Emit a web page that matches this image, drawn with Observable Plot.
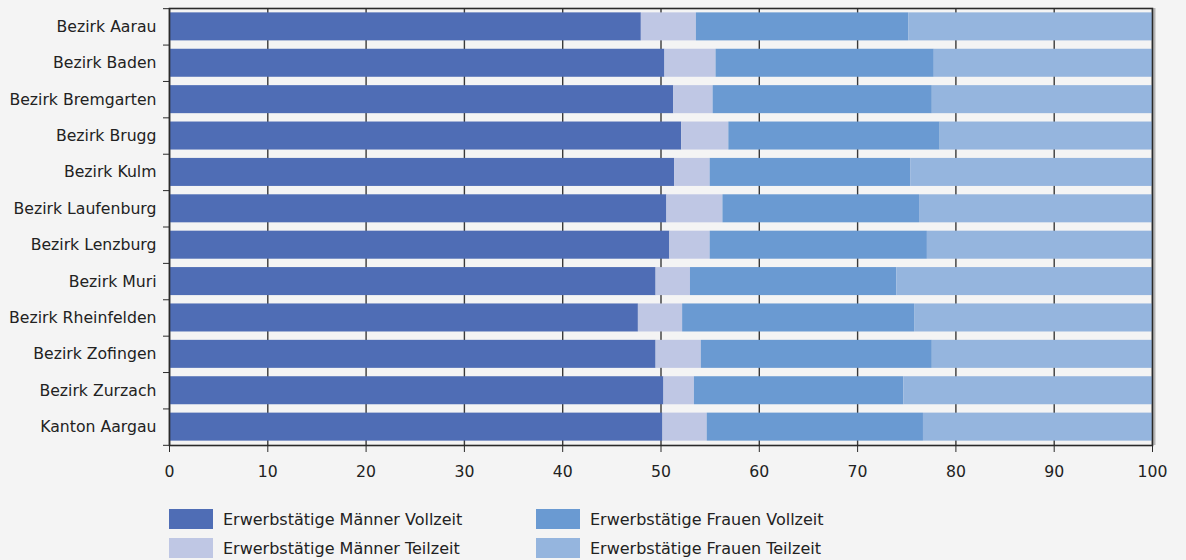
<!DOCTYPE html>
<html><head><meta charset="utf-8">
<script src="https://cdn.jsdelivr.net/npm/d3@7"></script>
<script src="https://cdn.jsdelivr.net/npm/@observablehq/plot@0.6"></script>
<style>
html,body{margin:0;padding:0;background:#f4f4f4;}
#wrap{position:relative;width:1186px;height:560px;font-family:"DejaVu Sans",sans-serif;color:#222;}
#wrap svg{position:absolute;left:0;top:0;}
.item{position:absolute;display:flex;align-items:center;height:20px;font-size:16px;white-space:nowrap;}
.sw{width:44px;height:20px;margin-right:10px;flex:none;}
</style></head>
<body><div id="wrap"></div>
<script>
const regions = ["Bezirk Aarau","Bezirk Baden","Bezirk Bremgarten","Bezirk Brugg","Bezirk Kulm","Bezirk Laufenburg","Bezirk Lenzburg","Bezirk Muri","Bezirk Rheinfelden","Bezirk Zofingen","Bezirk Zurzach","Kanton Aargau"];
const maennerVollzeit = [48.0,50.4,51.3,52.1,51.4,50.6,50.9,49.5,47.7,49.5,50.3,50.2];
const maennerTeilzeit = [5.6,5.2,4.0,4.8,3.6,5.7,4.1,3.5,4.5,4.6,3.1,4.5];
const frauenVollzeit  = [21.6,22.2,22.3,21.5,20.4,20.0,22.1,21.0,23.6,23.5,21.3,22.0];
const frauenTeilzeit  = [24.8,22.2,22.4,21.6,24.6,23.7,22.9,26.0,24.2,22.4,25.3,23.3];
const seriesNames = ["Erwerbstätige Männer Vollzeit","Erwerbstätige Männer Teilzeit","Erwerbstätige Frauen Vollzeit","Erwerbstätige Frauen Teilzeit"];
const seriesColors = ["#4f6db5","#bfc7e4","#6a9ad2","#95b5de"];
const xTicks = [0,10,20,30,40,50,60,70,80,90,100];

const seriesValues = [maennerVollzeit, maennerTeilzeit, frauenVollzeit, frauenTeilzeit];
const data = regions.flatMap((r, i) => seriesNames.map((s, k) => ({region: r, series: s, value: seriesValues[k][i]})));

const H = 500, mt = 8, mb = 55;
const pInner = 0.23, pOuter = 0.12;
const step = (H - mt - mb) / (regions.length - pInner + 2 * pOuter);

const chart = Plot.plot({
  width: 1186, height: H,
  marginLeft: 169, marginRight: 34, marginTop: mt, marginBottom: mb,
  style: {background: "transparent", fontFamily: "DejaVu Sans, sans-serif", fontSize: "15.7px", color: "#222"},
  x: {domain: [0, 100], label: null},
  y: {domain: regions, paddingInner: pInner, paddingOuter: pOuter, round: false, label: null},
  color: {domain: seriesNames, range: seriesColors},
  marks: [
    Plot.ruleX(xTicks, {stroke: "#3a3a3a", strokeWidth: 1.4}),
    Plot.barX(data, Plot.stackX({x: "value", y: "region", fill: "series", order: seriesNames})),
    Plot.ruleX([100], {dx: 2, stroke: "#b5b5b5", strokeWidth: 2}),
    Plot.frame({stroke: "#2a2a2a", strokeWidth: 1.6}),
    Plot.axisY({tickSize: 0, tickPadding: 13, fill: "#222"}),
    Plot.axisY({tickSize: 6, text: null, dy: step / 2, stroke: "#2a2a2a"}),
    Plot.axisY([regions[0]], {tickSize: 6, text: null, dy: -step / 2, stroke: "#2a2a2a"}),
    Plot.axisX({ticks: xTicks, tickSize: 7, tickPadding: 13, stroke: "#2a2a2a", fill: "#222"})
  ]
});
const wrap = document.getElementById("wrap");
wrap.appendChild(chart);

const legendPos = [[169, 509], [169, 538], [536, 509], [536, 538]];
seriesNames.forEach((s, k) => {
  const d = document.createElement("div");
  d.className = "item";
  d.style.left = legendPos[k][0] + "px";
  d.style.top = legendPos[k][1] + "px";
  d.innerHTML = `<div class="sw" style="background:${seriesColors[k]}"></div><span>${s}</span>`;
  wrap.appendChild(d);
});
</script>
</body></html>
